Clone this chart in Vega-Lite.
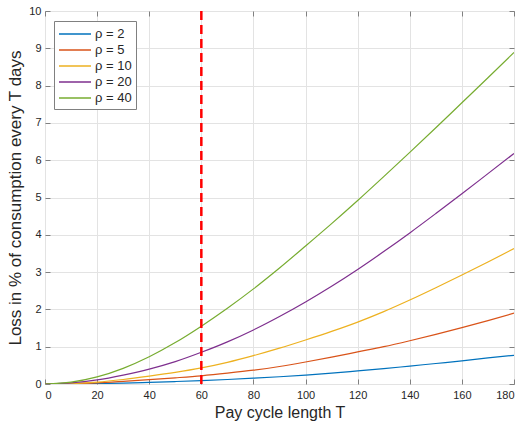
{
  "$schema": "https://vega.github.io/schema/vega-lite/v6.json",
  "width": 469,
  "height": 373,
  "autosize": {"type": "none"},
  "padding": {"left": 45, "top": 11, "right": 9, "bottom": 38},
  "background": "white",
  "config": {
    "font": "Liberation Sans",
    "view": {"stroke": "#808080", "strokeWidth": 1},
    "axis": {
      "domain": false,
      "grid": true,
      "gridColor": "#e3e3e3",
      "gridWidth": 1,
      "tickColor": "#808080",
      "tickSize": -5,
      "labelFont": "Liberation Sans",
      "labelFontSize": 11,
      "labelColor": "#262626",
      "titleFont": "Liberation Sans",
      "titleFontSize": 16,
      "titleFontWeight": "normal",
      "titleColor": "#262626"
    }
  },
  "layer": [
    {
      "data": {
        "values": [
          {"T": 0, "loss": 0, "series": "ρ = 2"},
          {"T": 10, "loss": 0.002, "series": "ρ = 2"},
          {"T": 20, "loss": 0.01, "series": "ρ = 2"},
          {"T": 30, "loss": 0.025, "series": "ρ = 2"},
          {"T": 40, "loss": 0.045, "series": "ρ = 2"},
          {"T": 50, "loss": 0.066, "series": "ρ = 2"},
          {"T": 60, "loss": 0.09, "series": "ρ = 2"},
          {"T": 70, "loss": 0.12, "series": "ρ = 2"},
          {"T": 80, "loss": 0.155, "series": "ρ = 2"},
          {"T": 90, "loss": 0.195, "series": "ρ = 2"},
          {"T": 100, "loss": 0.24, "series": "ρ = 2"},
          {"T": 110, "loss": 0.29, "series": "ρ = 2"},
          {"T": 120, "loss": 0.35, "series": "ρ = 2"},
          {"T": 130, "loss": 0.41, "series": "ρ = 2"},
          {"T": 140, "loss": 0.48, "series": "ρ = 2"},
          {"T": 150, "loss": 0.55, "series": "ρ = 2"},
          {"T": 160, "loss": 0.62, "series": "ρ = 2"},
          {"T": 170, "loss": 0.7, "series": "ρ = 2"},
          {"T": 180, "loss": 0.77, "series": "ρ = 2"},
          {"T": 0, "loss": 0, "series": "ρ = 5"},
          {"T": 10, "loss": 0.006, "series": "ρ = 5"},
          {"T": 20, "loss": 0.03, "series": "ρ = 5"},
          {"T": 30, "loss": 0.07, "series": "ρ = 5"},
          {"T": 40, "loss": 0.115, "series": "ρ = 5"},
          {"T": 50, "loss": 0.165, "series": "ρ = 5"},
          {"T": 60, "loss": 0.22, "series": "ρ = 5"},
          {"T": 70, "loss": 0.29, "series": "ρ = 5"},
          {"T": 80, "loss": 0.37, "series": "ρ = 5"},
          {"T": 90, "loss": 0.47, "series": "ρ = 5"},
          {"T": 100, "loss": 0.59, "series": "ρ = 5"},
          {"T": 110, "loss": 0.72, "series": "ρ = 5"},
          {"T": 120, "loss": 0.86, "series": "ρ = 5"},
          {"T": 130, "loss": 1.0, "series": "ρ = 5"},
          {"T": 140, "loss": 1.16, "series": "ρ = 5"},
          {"T": 150, "loss": 1.33, "series": "ρ = 5"},
          {"T": 160, "loss": 1.51, "series": "ρ = 5"},
          {"T": 170, "loss": 1.7, "series": "ρ = 5"},
          {"T": 180, "loss": 1.9, "series": "ρ = 5"},
          {"T": 0, "loss": 0, "series": "ρ = 10"},
          {"T": 10, "loss": 0.012, "series": "ρ = 10"},
          {"T": 20, "loss": 0.05, "series": "ρ = 10"},
          {"T": 30, "loss": 0.12, "series": "ρ = 10"},
          {"T": 40, "loss": 0.21, "series": "ρ = 10"},
          {"T": 50, "loss": 0.31, "series": "ρ = 10"},
          {"T": 60, "loss": 0.43, "series": "ρ = 10"},
          {"T": 70, "loss": 0.58, "series": "ρ = 10"},
          {"T": 80, "loss": 0.76, "series": "ρ = 10"},
          {"T": 90, "loss": 0.96, "series": "ρ = 10"},
          {"T": 100, "loss": 1.18, "series": "ρ = 10"},
          {"T": 110, "loss": 1.41, "series": "ρ = 10"},
          {"T": 120, "loss": 1.66, "series": "ρ = 10"},
          {"T": 130, "loss": 1.94, "series": "ρ = 10"},
          {"T": 140, "loss": 2.25, "series": "ρ = 10"},
          {"T": 150, "loss": 2.58, "series": "ρ = 10"},
          {"T": 160, "loss": 2.92, "series": "ρ = 10"},
          {"T": 170, "loss": 3.27, "series": "ρ = 10"},
          {"T": 180, "loss": 3.63, "series": "ρ = 10"},
          {"T": 0, "loss": 0, "series": "ρ = 20"},
          {"T": 10, "loss": 0.03, "series": "ρ = 20"},
          {"T": 20, "loss": 0.11, "series": "ρ = 20"},
          {"T": 30, "loss": 0.24, "series": "ρ = 20"},
          {"T": 40, "loss": 0.4, "series": "ρ = 20"},
          {"T": 50, "loss": 0.6, "series": "ρ = 20"},
          {"T": 60, "loss": 0.85, "series": "ρ = 20"},
          {"T": 70, "loss": 1.13, "series": "ρ = 20"},
          {"T": 80, "loss": 1.45, "series": "ρ = 20"},
          {"T": 90, "loss": 1.81, "series": "ρ = 20"},
          {"T": 100, "loss": 2.2, "series": "ρ = 20"},
          {"T": 110, "loss": 2.62, "series": "ρ = 20"},
          {"T": 120, "loss": 3.07, "series": "ρ = 20"},
          {"T": 130, "loss": 3.55, "series": "ρ = 20"},
          {"T": 140, "loss": 4.05, "series": "ρ = 20"},
          {"T": 150, "loss": 4.57, "series": "ρ = 20"},
          {"T": 160, "loss": 5.1, "series": "ρ = 20"},
          {"T": 170, "loss": 5.64, "series": "ρ = 20"},
          {"T": 180, "loss": 6.18, "series": "ρ = 20"},
          {"T": 0, "loss": 0, "series": "ρ = 40"},
          {"T": 10, "loss": 0.05, "series": "ρ = 40"},
          {"T": 20, "loss": 0.19, "series": "ρ = 40"},
          {"T": 30, "loss": 0.42, "series": "ρ = 40"},
          {"T": 40, "loss": 0.73, "series": "ρ = 40"},
          {"T": 50, "loss": 1.11, "series": "ρ = 40"},
          {"T": 60, "loss": 1.55, "series": "ρ = 40"},
          {"T": 70, "loss": 2.03, "series": "ρ = 40"},
          {"T": 80, "loss": 2.55, "series": "ρ = 40"},
          {"T": 90, "loss": 3.11, "series": "ρ = 40"},
          {"T": 100, "loss": 3.7, "series": "ρ = 40"},
          {"T": 110, "loss": 4.3, "series": "ρ = 40"},
          {"T": 120, "loss": 4.92, "series": "ρ = 40"},
          {"T": 130, "loss": 5.56, "series": "ρ = 40"},
          {"T": 140, "loss": 6.21, "series": "ρ = 40"},
          {"T": 150, "loss": 6.87, "series": "ρ = 40"},
          {"T": 160, "loss": 7.54, "series": "ρ = 40"},
          {"T": 170, "loss": 8.21, "series": "ρ = 40"},
          {"T": 180, "loss": 8.89, "series": "ρ = 40"}
        ]
      },
      "mark": {"type": "line", "strokeWidth": 1.2, "interpolate": "monotone", "clip": true},
      "encoding": {
        "x": {
          "field": "T", "type": "quantitative",
          "scale": {"domain": [0, 180], "nice": false},
          "axis": {"orient": "bottom", "title": "Pay cycle length T", "values": [0, 20, 40, 60, 80, 100, 120, 140, 160, 180], "labelPadding": 10, "titlePadding": 4}
        },
        "y": {
          "field": "loss", "type": "quantitative",
          "scale": {"domain": [0, 10], "nice": false},
          "axis": {"orient": "left", "title": "Loss in % of consumption every T days", "titleFontSize": 17, "values": [0, 1, 2, 3, 4, 5, 6, 7, 8, 9, 10], "labelPadding": 9, "titlePadding": 4}
        },
        "color": {
          "field": "series", "type": "nominal",
          "scale": {"domain": ["ρ = 2", "ρ = 5", "ρ = 10", "ρ = 20", "ρ = 40"], "range": ["#0072BD", "#D95319", "#EDB120", "#7E2F8E", "#77AC30"]},
          "legend": {
            "title": null, "orient": "none", "legendX": 9, "legendY": 10,
            "symbolType": "M-1,0H3", "symbolSize": 256, "symbolStrokeWidth": 1.5,
            "labelOffset": 19, "labelFontSize": 13, "labelColor": "#262626", "labelFont": "Liberation Sans",
            "rowPadding": 0, "padding": 4,
            "strokeColor": "#808080", "fillColor": "white"
          }
        }
      }
    },
    {
      "data": {"values": [{"T": 60}]},
      "mark": {"type": "rule", "color": "#FF0000", "strokeWidth": 2.5, "strokeDash": [9, 5]},
      "encoding": {"x": {"field": "T", "type": "quantitative", "axis": null}}
    },
    {
      "data": {"values": [{"T": 60, "loss": 0}]},
      "mark": {"type": "point", "opacity": 0},
      "encoding": {
        "x": {"field": "T", "type": "quantitative", "axis": {"orient": "top", "labels": false, "title": null, "grid": false, "values": [0, 20, 40, 60, 80, 100, 120, 140, 160, 180]}},
        "y": {"field": "loss", "type": "quantitative", "axis": {"orient": "right", "labels": false, "title": null, "grid": false, "values": [0, 1, 2, 3, 4, 5, 6, 7, 8, 9, 10]}}
      }
    }
  ],
  "resolve": {"axis": {"x": "independent", "y": "independent"}}
}
